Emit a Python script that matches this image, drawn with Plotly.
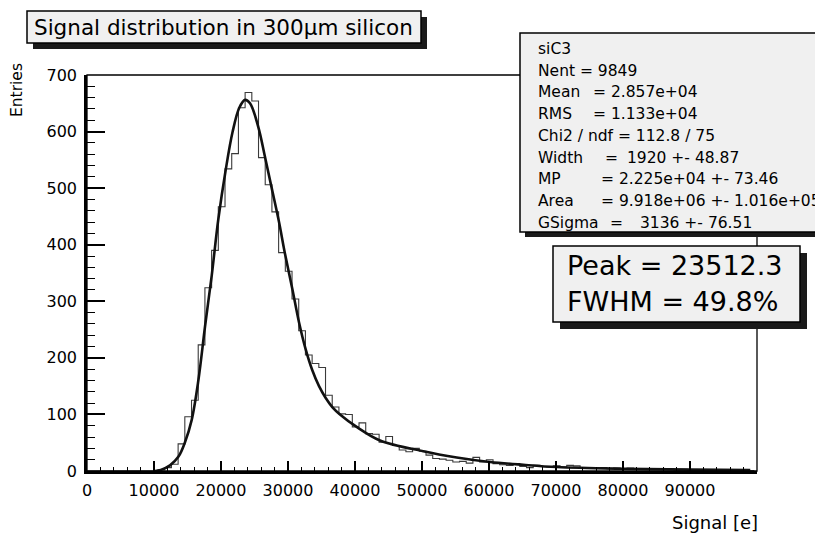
import plotly.graph_objects as go

# ---------------- data ----------------
bin_first_edge = -400
bin_width = 1000
counts = [
    0, 0, 0, 0, 0, 0, 0, 0, 0, 0,
    0, 2, 6, 12, 48, 96, 125, 223, 324, 390,
    467, 534, 561, 642, 669, 654, 554, 506, 458, 386,
    353, 304, 248, 205, 190, 183, 134, 113, 101, 100,
    78, 85, 66, 65, 51, 61, 45, 37, 34, 40,
    35, 28, 22, 21, 19, 16, 17, 14, 24, 16,
    20, 13, 11, 10, 13, 8, 6, 10, 8, 7,
    9, 7, 10, 9, 6, 5, 5, 6, 4, 5,
    4, 5, 4, 4, 3, 4, 3, 4, 2, 3,
    2, 2, 1, 2, 1, 1, 2, 1, 1, 1,
]

fit_x = [10150, 11000, 12390, 13630, 14600, 15620, 16620, 17610, 18610, 19600,
         20700, 21740, 22730, 23580, 24330, 25570, 26570, 27570, 28660, 29550,
         30640, 31640, 32640, 33630, 34630, 35630, 36610, 37760, 40250, 43730,
         50190, 55180, 60150, 65120, 70100, 80000, 90000, 99000]
fit_y = [0, 2, 10, 25, 50, 90, 160, 255, 345, 445,
         532, 600, 642, 656, 650, 608, 555, 500, 440, 384,
         322, 263, 215, 178, 150, 129, 113, 100, 78, 54,
         35, 24, 16, 11, 7, 4, 2.5, 1.5]

x_tick_values = [0, 10000, 20000, 30000, 40000, 50000, 60000, 70000, 80000, 90000]
x_tick_labels = [str(v) for v in x_tick_values]
y_tick_values = [0, 100, 200, 300, 400, 500, 600, 700]
y_tick_labels = [str(v) for v in y_tick_values]

title_text = "Signal distribution in 300µm silicon"
x_title = "Signal [e]"
y_title = "Entries"

stats_name = "siC3"
stats_nent = "Nent = 9849"
stats_chi2 = "Chi2 / ndf = 112.8 / 75"
stats_labels = ["Mean", "RMS", "Width", "MP", "Area", "GSigma"]
stats_eq = ["=", "=", "=", "=", "=", "="]
stats_values = ["2.857e+04", "1.133e+04", "1920 +- 48.87", "2.225e+04 +- 73.46",
                "9.918e+06 +- 1.016e+05", "3136 +- 76.51"]
peak_lines = ["Peak = 23512.3", "FWHM = 49.8%"]

# ---------------- layout geometry (page pixels) ----------------
W, H = 823, 533
OFF = 8                       # default body margin of the html page
L, R, T, B = 87, 757, 75, 471
FONT = "DejaVu Sans"


def X(px):
    return (px - L) / (R - L)


def Y(py):
    return (B - py) / (B - T)


edges = [bin_first_edge + i * bin_width for i in range(len(counts) + 1)]
step_y = counts + [counts[-1]]

fig = go.Figure()
fig.add_trace(go.Scatter(x=edges, y=step_y, mode="lines", line_shape="hv",
                         line=dict(color="#3a3a3a", width=1.1), hoverinfo="skip"))
fig.add_trace(go.Scatter(x=fit_x, y=fit_y, mode="lines", line_shape="spline",
                         line=dict(color="#111111", width=2.6, smoothing=1.0),
                         hoverinfo="skip"))

shapes = []
shapes.append(dict(type="rect", xref="paper", yref="paper", x0=0, x1=1, y0=0, y1=1,
                   line=dict(color="black", width=1.3), layer="above"))


def box(x0, y0, x1, y1, sh):
    shapes.append(dict(type="rect", xref="paper", yref="paper",
                       x0=X(x0 + sh), x1=X(x1 + sh), y0=Y(y1 + sh), y1=Y(y0 + sh),
                       fillcolor="#1a1a1a", line=dict(width=0), layer="above"))
    shapes.append(dict(type="rect", xref="paper", yref="paper",
                       x0=X(x0), x1=X(x1), y0=Y(y1), y1=Y(y0),
                       fillcolor="#f0f0f0", line=dict(color="black", width=1.5),
                       layer="above"))


box(27, 11, 421, 43, 6)      # title
box(520, 33, 845, 232, 5)    # stats
box(553, 246, 800, 322, 7)   # peak / fwhm

ann = []


def text(px, py, s, size, xanchor="left", angle=0, yanchor="middle"):
    ann.append(dict(x=X(px), y=Y(py), xref="paper", yref="paper", text=s,
                    showarrow=False, xanchor=xanchor, yanchor=yanchor,
                    textangle=angle, borderpad=0,
                    font=dict(family=FONT, size=size, color="black")))


text(33, 28, title_text, 21.5)

ys = [49, 70.7, 92.4, 114.1, 135.8, 157.5, 179.2, 200.9, 222.6]
SFS = 15.5
text(537, ys[0], stats_name, SFS)
text(537, ys[1], stats_nent, SFS)
text(537, ys[2], stats_labels[0], SFS)
text(592, ys[2], stats_eq[0] + " " + stats_values[0], SFS)
text(537, ys[3], stats_labels[1], SFS)
text(592, ys[3], stats_eq[1] + " " + stats_values[1], SFS)
text(537, ys[4], stats_chi2, SFS)
text(537, ys[5], stats_labels[2], SFS)
text(604, ys[5], stats_eq[2], SFS)
text(626, ys[5], stats_values[2], SFS)
text(537, ys[6], stats_labels[3], SFS)
text(600, ys[6], stats_eq[3] + " " + stats_values[3], SFS)
text(537, ys[7], stats_labels[4], SFS)
text(600, ys[7], stats_eq[4] + " " + stats_values[4], SFS)
text(537, ys[8], stats_labels[5], SFS)
text(609, ys[8], stats_eq[5], SFS)
text(639, ys[8], stats_values[5], SFS)

text(566, 265, peak_lines[0], 27)
text(566, 301, peak_lines[1], 27)

text(759, 522, x_title, 18, xanchor="right")
text(17, 62, y_title, 15.5, xanchor="center", angle=-90, yanchor="top")

fig.update_layout(
    width=W - OFF, height=H - OFF, autosize=False,
    margin=dict(l=L - OFF, r=W - R, t=T - OFF, b=H - B, pad=0),
    paper_bgcolor="white", plot_bgcolor="white",
    showlegend=False,
    shapes=shapes, annotations=ann,
    font=dict(family=FONT, size=16, color="black"),
)
fig.update_xaxes(range=[0, 100000], showgrid=False, zeroline=False,
                 showline=True, linecolor="black", linewidth=2.5,
                 ticks="inside", ticklen=10, tickwidth=1.5, tickcolor="black",
                 tickmode="array", tickvals=x_tick_values, ticktext=x_tick_labels,
                 ticklabelstandoff=3,
                 tickfont=dict(family=FONT, size=16, color="black"),
                 minor=dict(ticks="inside", ticklen=4.5, tickwidth=1.3,
                            tickcolor="black", tick0=0, dtick=2000))
fig.update_yaxes(range=[0, 700], showgrid=False, zeroline=False,
                 showline=True, linecolor="black", linewidth=2.5,
                 ticks="inside", ticklen=18, tickwidth=1.5, tickcolor="black",
                 tickmode="array", tickvals=y_tick_values, ticktext=y_tick_labels,
                 ticklabelstandoff=4,
                 tickfont=dict(family=FONT, size=16, color="black"),
                 minor=dict(ticks="inside", ticklen=8, tickwidth=1.3,
                            tickcolor="black", tick0=0, dtick=20))

fig.write_html("out.html")
